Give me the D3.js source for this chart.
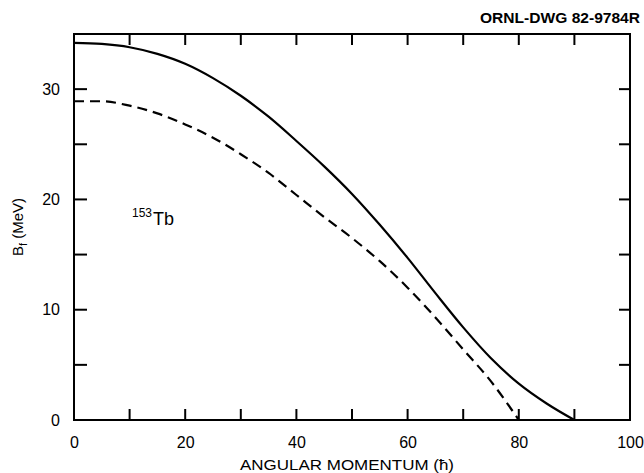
<!DOCTYPE html>
<html>
<head>
<meta charset="utf-8">
<script src="https://cdn.jsdelivr.net/npm/d3@7"></script>
<style>
body{margin:0;background:#fff;}
svg{display:block;}
text{font-family:"Liberation Sans","DejaVu Sans",sans-serif;fill:#000;}
.axis text{font-size:16px;}
</style>
</head>
<body>
<div id="plot"></div>
<script>
// solid curve (upper) and dashed curve (lower)
var momentumSolid = [0,5,10,15,20,25,30,35,40,45,50,55,60,65,70,75,80,85,90],
	barrierSolid = [34.2,34.1,33.8,33.2,32.3,31.0,29.4,27.5,25.3,23.0,20.5,17.7,14.7,11.5,8.4,5.6,3.3,1.5,0];
var momentumDashed = [0,5,10,15,20,25,30,35,40,45,50,55,60,65,70,75,80],
	barrierDashed = [28.9,28.9,28.5,27.8,26.8,25.6,24.1,22.4,20.4,18.4,16.5,14.4,12.0,9.3,6.4,3.5,0];
var xTicks = [10,20,30,40,50,60,70,80,90],
	xLabels = [0,20,40,60,80,100],
	yTicks = [5,10,15,20,25,30],
	yLabels = [0,10,20,30];

var W = 644, H = 473;
var m = {t:34,r:14,b:53,l:74},
	w = W - m.l - m.r,
	h = H - m.t - m.b;

var svg = d3.select('#plot').append('svg')
	.attr('width',W).attr('height',H);
var plot = svg.append('g')
	.attr('transform','translate('+m.l+','+m.t+')');

var scaleX = d3.scaleLinear().domain([0,100]).range([0,w]),
	scaleY = d3.scaleLinear().domain([0,35]).range([h,0]);

//tick labels through d3 axes (no tick lines, no domain)
var xAxis = d3.axisBottom(scaleX).tickValues(xLabels).tickSize(0).tickPadding(17);
var yAxis = d3.axisLeft(scaleY).tickValues(yLabels).tickSize(0).tickPadding(14);
plot.append('g').attr('class','axis axis-x')
	.attr('transform','translate(0,'+h+')')
	.call(xAxis);
plot.append('g').attr('class','axis axis-y')
	.call(yAxis);
plot.selectAll('.domain').remove();

//inward tick marks on all four sides
var TICK = 11;
var ticks = plot.append('g').attr('class','ticks')
	.attr('stroke','#000').attr('stroke-width',2);
ticks.selectAll('.tick-b').data(xTicks).enter().append('line').attr('class','tick-b')
	.attr('x1',function(d){return scaleX(d)}).attr('x2',function(d){return scaleX(d)})
	.attr('y1',h).attr('y2',h-TICK);
ticks.selectAll('.tick-t').data(xTicks).enter().append('line').attr('class','tick-t')
	.attr('x1',function(d){return scaleX(d)}).attr('x2',function(d){return scaleX(d)})
	.attr('y1',0).attr('y2',TICK);
ticks.selectAll('.tick-l').data(yTicks).enter().append('line').attr('class','tick-l')
	.attr('y1',function(d){return scaleY(d)}).attr('y2',function(d){return scaleY(d)})
	.attr('x1',0).attr('x2',TICK+2);
ticks.selectAll('.tick-r').data(yTicks).enter().append('line').attr('class','tick-r')
	.attr('y1',function(d){return scaleY(d)}).attr('y2',function(d){return scaleY(d)})
	.attr('x1',w).attr('x2',w-TICK);

//frame
plot.append('rect')
	.attr('width',w).attr('height',h)
	.attr('fill','none').attr('stroke','#000').attr('stroke-width',2);

//curves
var line = d3.line()
	.x(function(d){return scaleX(d[0])})
	.y(function(d){return scaleY(d[1])})
	.curve(d3.curveMonotoneX);

plot.append('path')
	.datum(d3.zip(momentumSolid,barrierSolid))
	.attr('d',line)
	.attr('fill','none').attr('stroke','#000').attr('stroke-width',2.2);
plot.append('path')
	.datum(d3.zip(momentumDashed,barrierDashed))
	.attr('d',line)
	.attr('fill','none').attr('stroke','#000').attr('stroke-width',2.2)
	.attr('stroke-dasharray','10,6');

//labels
svg.append('text')
	.attr('x',347).attr('y',470)
	.attr('text-anchor','middle')
	.attr('textLength',214).attr('lengthAdjust','spacingAndGlyphs')
	.style('font-size','15px')
	.text('ANGULAR MOMENTUM (\u0127)');

var yLab = svg.append('text')
	.attr('transform','translate(23,227) rotate(-90)')
	.attr('text-anchor','middle')
	.style('font-size','15px');
yLab.append('tspan').text('B');
yLab.append('tspan').attr('dy',4).style('font-size','11px').text('f');
yLab.append('tspan').attr('dy',-4).text(' (MeV)');

var iso = svg.append('text')
	.attr('x',132).attr('y',225);
iso.append('tspan').style('font-size','12px').attr('dy',-8).text('153');
iso.append('tspan').style('font-size','18px').attr('dx',1).attr('dy',8).text('Tb');

svg.append('text')
	.attr('x',640).attr('y',23)
	.attr('text-anchor','end')
	.attr('textLength',160).attr('lengthAdjust','spacingAndGlyphs')
	.style('font-size','14px').style('font-weight','bold')
	.text('ORNL-DWG 82-9784R');
</script>
</body>
</html>
